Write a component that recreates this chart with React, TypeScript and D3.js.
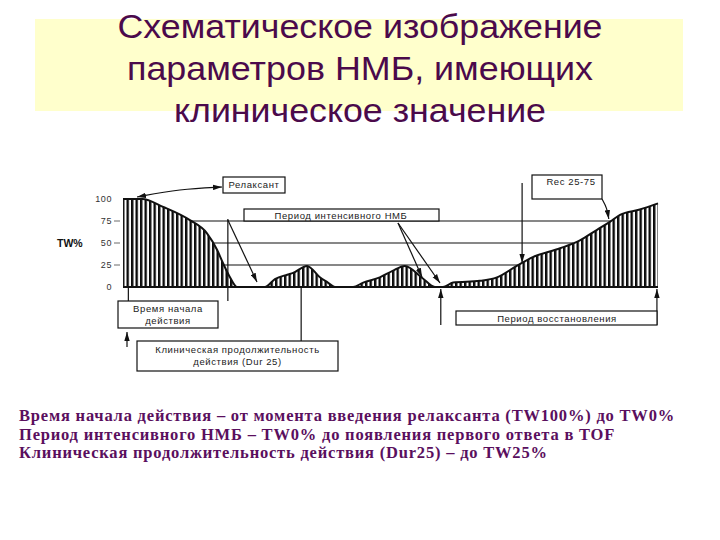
import { useEffect, useRef } from "react";
import * as d3 from "d3";

// TW% curve (time in arbitrary units 0..100)
const TIME = [0, 3.6, 7.5, 12.5, 15.7, 17.6, 18.7, 20, 21.3, 26.5, 28.4, 30.7, 31.8, 34.4, 36.8, 38.3, 39.6, 43, 44.9, 48, 50.3, 52.7, 56, 58.3, 59.8, 61.7, 66.7, 69.9, 73.6, 76.6, 81.7, 85.4, 88.6, 91, 92.9, 96.6, 100];
const TW = [100, 100, 91, 76, 61, 42, 27, 11, 0, 0, 9, 14, 16, 24, 11, 5, 0, 0, 5, 11, 18, 24, 10, 0, 0, 5, 7, 11, 24, 34, 44, 53, 65, 74, 82, 88, 95];

const Y_TICKS = [100, 75, 50, 25, 0];
const GUIDE_LEVELS = [75, 50, 25];

// event times used by the annotations
const T_ONSET = 1;
const T_TW0 = 19.6;
const T_DUR25 = 33.3;
const T_REC_START = 59.4;
const T_REC_END = 99.8;
const T_REC25 = 74.6;
const T_REC75 = 90.8;

const TITLE_LINES = ["Схематическое изображение", "параметров НМБ, имеющих", "клиническое значение"];
const TITLE_WIDTHS = [485, 466, 372];
const NOTE_LINES = [
	"Время начала действия – от момента введения релаксанта (TW100%) до TW0%",
	"Период интенсивного НМБ – TW0% до появления первого ответа в TOF",
	"Клиническая продолжительность действия (Dur25) – до TW25%",
];

function crossing(level: number, rising: boolean) {
	if (!rising) {
		for (let i = 0; i < TW.length - 1; i++) {
			if (TW[i] >= level && TW[i + 1] < level) {
				const k = (TW[i] - level) / (TW[i] - TW[i + 1]);
				return TIME[i] + k * (TIME[i + 1] - TIME[i]);
			}
		}
	} else {
		for (let i = TW.length - 2; i >= 0; i--) {
			if (TW[i] < level && TW[i + 1] >= level) {
				const k = (level - TW[i]) / (TW[i + 1] - TW[i]);
				return TIME[i] + k * (TIME[i + 1] - TIME[i]);
			}
		}
	}
	return 0;
}

export default function App() {
	const ref = useRef<SVGSVGElement>(null);

	useEffect(() => {
		const svg = d3.select(ref.current);
		svg.selectAll("*").remove();

		const x = d3.scaleLinear().domain([0, 100]).range([123, 658]);
		const y = d3.scaleLinear().domain([0, 100]).range([287, 199]);

		const defs = svg.append("defs");
		const pat = defs.append("pattern")
			.attr("id", "hatch")
			.attr("patternUnits", "userSpaceOnUse")
			.attr("x", 122)
			.attr("width", 4.5)
			.attr("height", 10);
		pat.append("rect").attr("width", 4.5).attr("height", 10).attr("fill", "#fff");
		pat.append("rect").attr("width", 2.4).attr("height", 10).attr("fill", "#0a0a0a");

		defs.append("marker")
			.attr("id", "arr")
			.attr("viewBox", "0 0 10 6")
			.attr("refX", 10)
			.attr("refY", 3)
			.attr("markerWidth", 9)
			.attr("markerHeight", 6)
			.attr("markerUnits", "userSpaceOnUse")
			.attr("orient", "auto-start-reverse")
			.append("path")
			.attr("d", "M0,0 L10,3 L0,6 Z")
			.attr("fill", "#111");

		// Title block
		svg.append("rect")
			.attr("x", 35).attr("y", 19)
			.attr("width", 648).attr("height", 92)
			.attr("fill", "#FFFFCC");

		svg.append("g")
			.selectAll("text")
			.data(TITLE_LINES)
			.enter()
			.append("text")
			.attr("x", 360)
			.attr("y", (_, i) => 38 + i * 42)
			.attr("text-anchor", "middle")
			.attr("font-family", "'Liberation Sans', Arial, sans-serif")
			.attr("font-size", "34px")
			.attr("textLength", (_, i) => TITLE_WIDTHS[i])
			.attr("lengthAdjust", "spacingAndGlyphs")
			.attr("fill", "#4B0A4B")
			.text(d => d);

		const g = svg.append("g");

		// hatched area under the curve
		const area = d3.area<number>()
			.x((_, i) => x(TIME[i]))
			.y0(y(0))
			.y1(d => y(d))
			.curve(d3.curveMonotoneX);

		const line = d3.line<number>()
			.x((_, i) => x(TIME[i]))
			.y(d => y(d))
			.curve(d3.curveMonotoneX);

		g.append("path").attr("d", area(TW)).attr("fill", "url(#hatch)");
		g.append("path").attr("d", line(TW)).attr("fill", "none").attr("stroke", "#111").attr("stroke-width", 2);

		// baseline
		g.append("line")
			.attr("x1", x(0)).attr("x2", x(100))
			.attr("y1", y(0)).attr("y2", y(0))
			.attr("stroke", "#111").attr("stroke-width", 2.2);

		// guide lines TW75 / TW50 / TW25
		GUIDE_LEVELS.forEach(lv => {
			g.append("line")
				.attr("x1", x(crossing(lv, false)))
				.attr("x2", x(crossing(lv, true)))
				.attr("y1", y(lv)).attr("y2", y(lv))
				.attr("stroke", "#111").attr("stroke-width", 1.1);
		});

		// Y axis labels
		const axis = g.append("g")
			.attr("font-family", "'Liberation Sans', Arial, sans-serif")
			.attr("font-size", "9px")
			.attr("fill", "#333");
		Y_TICKS.forEach(t => {
			axis.append("text")
				.attr("x", 112).attr("y", y(t) + 3)
				.attr("text-anchor", "end")
				.attr("letter-spacing", "0.6")
				.text(t);
			if (t > 0 && t < 100) {
				axis.append("line")
					.attr("x1", 114).attr("x2", 120)
					.attr("y1", y(t)).attr("y2", y(t))
					.attr("stroke", "#444").attr("stroke-width", 0.8);
			}
		});
		axis.append("text")
			.attr("x", 57).attr("y", y(50) + 4)
			.attr("font-weight", "bold")
			.attr("font-size", "10.5px")
			.attr("fill", "#111")
			.text("TW%");

		const stroke = (sel: any) => sel.attr("stroke", "#111").attr("stroke-width", 1.2).attr("fill", "none");

		// vertical event markers
		g.append("line").attr("x1", x(T_ONSET)).attr("x2", x(T_ONSET)).attr("y1", y(0)).attr("y2", 301).call(stroke);
		g.append("line").attr("x1", x(T_TW0)).attr("x2", x(T_TW0)).attr("y1", 219).attr("y2", 301).call(stroke);
		g.append("line").attr("x1", x(T_DUR25)).attr("x2", x(T_DUR25)).attr("y1", y(0)).attr("y2", 341).call(stroke);

		// arrows
		const arrow = (pts: [number, number][], both = false) => {
			const p = g.append("path")
				.attr("d", d3.line().curve(d3.curveBasis)(pts))
				.call(stroke)
				.attr("marker-end", "url(#arr)");
			if (both) p.attr("marker-start", "url(#arr)");
		};

		arrow([[222, 187], [180, 189], [137, 197]], true);
		arrow([[x(T_TW0), 220], [257, 282]]);
		arrow([[398, 223], [422, 277]]);
		arrow([[398, 223], [440, 283]]);
		arrow([[x(T_REC25), 183], [x(T_REC25), y(24) - 3]]);
		arrow([[602, 199], [607, 208], [x(T_REC75), y(75) - 2]]);
		arrow([[127, 347], [127, 332]]);
		arrow([[x(T_REC_START), 325], [x(T_REC_START), y(0) + 2]]);
		arrow([[x(T_REC_END), 325], [x(T_REC_END), y(0) + 2]]);

		// labelled boxes
		const box = (x0: number, y0: number, x1: number, y1: number, lines: string[], ys: number[], cx?: number) => {
			g.append("rect")
				.attr("x", x0).attr("y", y0)
				.attr("width", x1 - x0).attr("height", y1 - y0)
				.attr("fill", "#fff").attr("stroke", "#111").attr("stroke-width", 1.2);
			lines.forEach((s, i) => {
				g.append("text")
					.attr("x", cx ?? (x0 + x1) / 2)
					.attr("y", ys[i])
					.attr("text-anchor", "middle")
					.attr("font-family", "'Liberation Sans', Arial, sans-serif")
					.attr("font-size", "9.5px")
					.attr("letter-spacing", "0.6")
					.attr("fill", "#222")
					.text(s);
			});
		};

		box(223, 177, 285, 193, ["Релаксант"], [188]);
		box(244, 209, 439, 221, ["Период интенсивного НМБ"], [218.5], 341);
		box(532, 175, 602, 199, ["Rec 25-75"], [185], 571);
		box(118, 301, 218, 328, ["Время начала", "действия"], [312, 323.5], 168);
		box(137, 341, 338, 371, ["Клиническая продолжительность", "действия (Dur 25)"], [353, 365]);
		box(456, 311, 657, 325, ["Период восстановления"], [321.5], 557);

		// notes below
		svg.append("g")
			.selectAll("text")
			.data(NOTE_LINES)
			.enter()
			.append("text")
			.attr("x", 19)
			.attr("y", (_, i) => 421 + i * 18.5)
			.attr("font-family", "'Liberation Serif', 'Times New Roman', serif")
			.attr("font-weight", "bold")
			.attr("font-size", "16.5px")
			.attr("letter-spacing", "0.8")
			.attr("fill", "#5A0F5E")
			.text(d => d);
	}, []);

	return (
		<svg
			ref={ref}
			width={720}
			height={540}
			style={{ position: "absolute", left: 0, top: 0, background: "#fff" }}
		/>
	);
}
